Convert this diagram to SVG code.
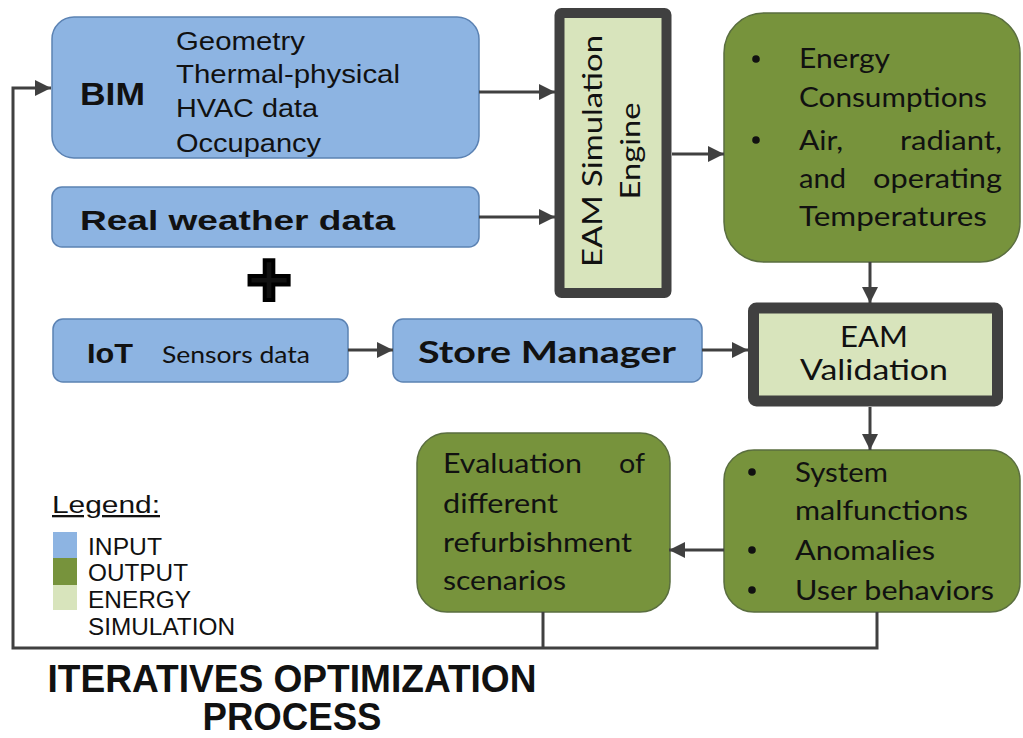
<svg xmlns="http://www.w3.org/2000/svg" width="1023" height="738" viewBox="0 0 1023 738">
<defs>
<marker id="ah" viewBox="0 0 10 10" refX="10" refY="5" markerWidth="18" markerHeight="16" markerUnits="userSpaceOnUse" orient="auto">
<path d="M0,0 L10,5 L0,10 z" fill="#404040"/>
</marker>
<style>
.in{fill:#8db4e2;stroke:#5b82b3;stroke-width:1.5}
.out{fill:#77933c;stroke:#5a6e3f;stroke-width:1.5}
.sim{fill:#d8e4bc;stroke:#404040}
.ar{fill:none;stroke:#404040;stroke-width:3}
.a{font-family:"Liberation Sans",Arial,sans-serif;fill:#111}
.c{font-family:Lato,"Open Sans",sans-serif;fill:#111}
.b{font-weight:bold}
.dot{fill:#111}
</style>
</defs>
<rect width="1023" height="738" fill="#fff"/>

<g id="bim">
<rect class="in" x="52" y="17" width="427" height="141" rx="22"/>
<text class="a b" x="80" y="105" font-size="31" textLength="65" lengthAdjust="spacingAndGlyphs">BIM</text>
<text class="a" x="176" y="50" font-size="25" textLength="129" lengthAdjust="spacingAndGlyphs">Geometry</text>
<text class="a" x="176" y="83" font-size="25" textLength="224" lengthAdjust="spacingAndGlyphs">Thermal-physical</text>
<text class="a" x="176" y="117" font-size="25" textLength="142" lengthAdjust="spacingAndGlyphs">HVAC data</text>
<text class="a" x="176" y="152" font-size="25" textLength="145" lengthAdjust="spacingAndGlyphs">Occupancy</text>
</g>

<g id="weather">
<rect class="in" x="52" y="187" width="427" height="60" rx="10"/>
<text class="a b" x="80" y="230" font-size="28" textLength="315" lengthAdjust="spacingAndGlyphs">Real weather data</text>
</g>

<g id="plus">
<text class="a b" x="269" y="306" font-size="78" text-anchor="middle" stroke="#000" stroke-width="4">+</text>
</g>

<g id="iot">
<rect class="in" x="53" y="319" width="295" height="63" rx="10"/>
<text class="a b" x="87" y="363" font-size="28" textLength="46" lengthAdjust="spacingAndGlyphs">IoT</text>
<text class="c" x="162" y="363" font-size="23" textLength="148" lengthAdjust="spacingAndGlyphs">Sensors data</text>
</g>

<g id="store">
<rect class="in" x="393" y="319" width="309" height="63" rx="10"/>
<text class="c b" x="418" y="363" font-size="31" textLength="258" lengthAdjust="spacingAndGlyphs">Store Manager</text>
</g>

<g id="engine">
<rect class="sim" x="559.5" y="13" width="107" height="280" rx="2" stroke-width="10"/>
<text class="c" transform="translate(602,151) rotate(-90)" font-size="27" text-anchor="middle" textLength="232" lengthAdjust="spacingAndGlyphs">EAM Simulation</text>
<text class="c" transform="translate(640,151) rotate(-90)" font-size="27" text-anchor="middle" textLength="97" lengthAdjust="spacingAndGlyphs">Engine</text>
</g>

<g id="output">
<rect class="out" x="724" y="13" width="296" height="249" rx="40"/>
<circle class="dot" cx="756" cy="59" r="3.8"/>
<text class="c" x="799" y="68" font-size="26" textLength="91" lengthAdjust="spacingAndGlyphs">Energy</text>
<text class="c" x="799" y="107" font-size="26" textLength="188" lengthAdjust="spacingAndGlyphs">Consumptions</text>
<circle class="dot" cx="756" cy="140" r="3.8"/>
<text class="c" x="799" y="150" font-size="26" textLength="44" lengthAdjust="spacingAndGlyphs">Air,</text>
<text class="c" x="1002" y="150" font-size="26" text-anchor="end" textLength="102" lengthAdjust="spacingAndGlyphs">radiant,</text>
<text class="c" x="799" y="188" font-size="26" textLength="47" lengthAdjust="spacingAndGlyphs">and</text>
<text class="c" x="1002" y="188" font-size="26" text-anchor="end" textLength="129" lengthAdjust="spacingAndGlyphs">operating</text>
<text class="c" x="799" y="226" font-size="26" textLength="188" lengthAdjust="spacingAndGlyphs">Temperatures</text>
</g>

<g id="validation">
<rect class="sim" x="753.5" y="308" width="244" height="93" rx="3" stroke-width="11"/>
<text class="c" x="874" y="347" font-size="28" text-anchor="middle" textLength="68" lengthAdjust="spacingAndGlyphs">EAM</text>
<text class="c" x="874" y="380" font-size="28" text-anchor="middle" textLength="148" lengthAdjust="spacingAndGlyphs">Validation</text>
</g>

<g id="malfunctions">
<rect class="out" x="724" y="450" width="296" height="162" rx="30"/>
<circle class="dot" cx="752" cy="472" r="3.8"/>
<text class="c" x="795" y="482" font-size="26" textLength="93" lengthAdjust="spacingAndGlyphs">System</text>
<text class="c" x="795" y="520" font-size="26" textLength="173" lengthAdjust="spacingAndGlyphs">malfunctions</text>
<circle class="dot" cx="752" cy="550" r="3.8"/>
<text class="c" x="795" y="560" font-size="26" textLength="140" lengthAdjust="spacingAndGlyphs">Anomalies</text>
<circle class="dot" cx="752" cy="590" r="3.8"/>
<text class="c" x="795" y="600" font-size="26" textLength="199" lengthAdjust="spacingAndGlyphs">User behaviors</text>
</g>

<g id="evaluation">
<rect class="out" x="417" y="433" width="253" height="179" rx="30"/>
<text class="c" x="443" y="473" font-size="26" textLength="139" lengthAdjust="spacingAndGlyphs">Evaluation</text>
<text class="c" x="645" y="473" font-size="26" text-anchor="end" textLength="26" lengthAdjust="spacingAndGlyphs">of</text>
<text class="c" x="443" y="513" font-size="26" textLength="115" lengthAdjust="spacingAndGlyphs">different</text>
<text class="c" x="443" y="552" font-size="26" textLength="189" lengthAdjust="spacingAndGlyphs">refurbishment</text>
<text class="c" x="443" y="590" font-size="26" textLength="123" lengthAdjust="spacingAndGlyphs">scenarios</text>
</g>

<g id="connectors">
<path class="ar" d="M479,92 H555" marker-end="url(#ah)"/>
<path class="ar" d="M479,217 H555" marker-end="url(#ah)"/>
<path class="ar" d="M672,154 H724" marker-end="url(#ah)"/>
<path class="ar" d="M870,262 V303" marker-end="url(#ah)"/>
<path class="ar" d="M870,407 V450" marker-end="url(#ah)"/>
<path class="ar" d="M724,550 H669" marker-end="url(#ah)"/>
<path class="ar" d="M348,350 H393" marker-end="url(#ah)"/>
<path class="ar" d="M702,350 H748" marker-end="url(#ah)"/>
<path class="ar" d="M543,612 V648"/>
<path class="ar" d="M877,612 V648 H13 V88 H51" marker-end="url(#ah)"/>
</g>

<g id="legend">
<text class="a" x="52" y="513" font-size="23" textLength="108" lengthAdjust="spacingAndGlyphs" text-decoration="underline">Legend:</text>
<rect x="53" y="532" width="24" height="26" fill="#8db4e2"/>
<rect x="53" y="558" width="24" height="27" fill="#77933c"/>
<rect x="53" y="585" width="24" height="25" fill="#d8e4bc"/>
<text class="a" x="88" y="555" font-size="23" textLength="74" lengthAdjust="spacingAndGlyphs">INPUT</text>
<text class="a" x="88" y="581" font-size="23" textLength="100" lengthAdjust="spacingAndGlyphs">OUTPUT</text>
<text class="a" x="88" y="608" font-size="23" textLength="103" lengthAdjust="spacingAndGlyphs">ENERGY</text>
<text class="a" x="88" y="635" font-size="23" textLength="147" lengthAdjust="spacingAndGlyphs">SIMULATION</text>
</g>

<g id="title">
<text class="a b" x="292" y="692" font-size="39" text-anchor="middle" textLength="489" lengthAdjust="spacingAndGlyphs">ITERATIVES OPTIMIZATION</text>
<text class="a b" x="292" y="730" font-size="38" text-anchor="middle" textLength="179" lengthAdjust="spacingAndGlyphs">PROCESS</text>
</g>
</svg>
